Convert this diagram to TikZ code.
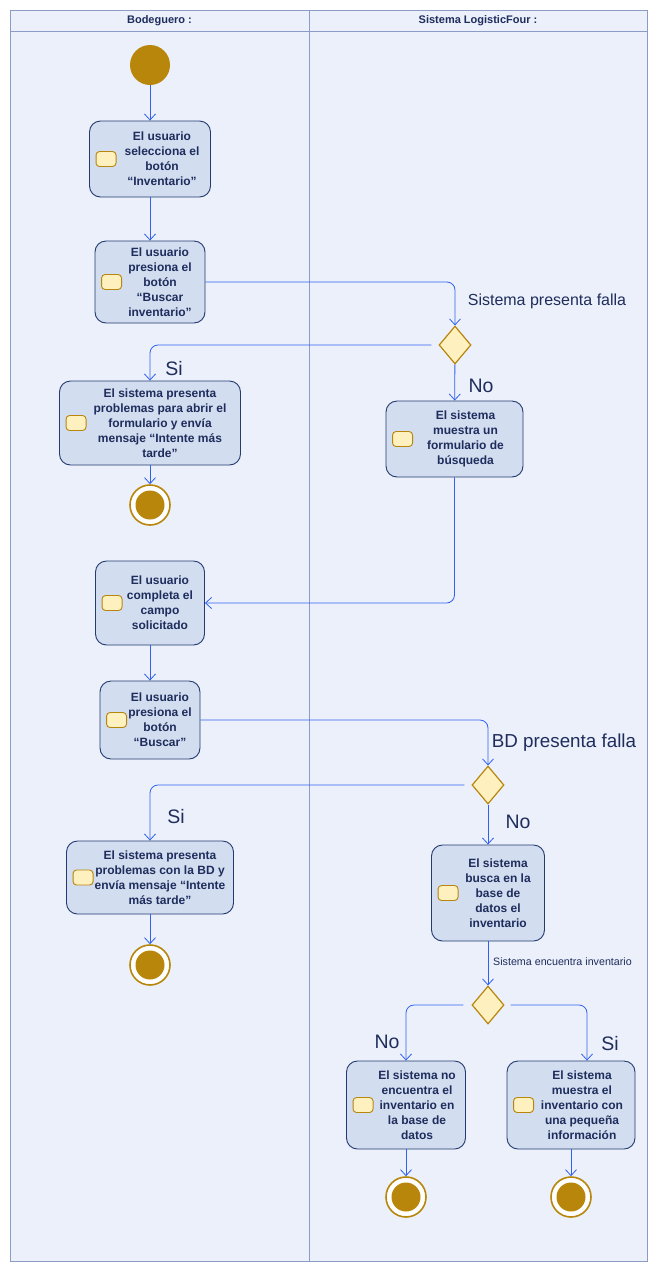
\documentclass[tikz,border=0pt]{standalone}
\usepackage{fontspec}
\setmainfont{Liberation Sans}
\usetikzlibrary{shapes.geometric,arrows.meta}

\definecolor{lanebg}{HTML}{EBF0FA}
\definecolor{laneline}{HTML}{8C9CC6}
\definecolor{boxfill}{HTML}{D2DDF0}
\definecolor{boxline}{HTML}{243A70}
\definecolor{ink}{HTML}{1E2D5C}
\definecolor{gold}{HTML}{B8860B}
\definecolor{cream}{HTML}{FFF0C0}
\definecolor{flowblue}{HTML}{3060F0}

\tikzset{
  action/.style={draw=boxline, fill=boxfill, line width=0.9pt, rounded corners=11pt, inner sep=0pt},
  icon/.style={draw=gold, fill=cream, line width=0.9pt, rounded corners=3.5pt,
    minimum width=20pt, minimum height=15pt, inner sep=0pt},
  acttext/.style={text=ink, font=\fontsize{12}{15}\selectfont\bfseries, align=center, inner sep=0pt},
  decision/.style={diamond, draw=gold, fill=cream, line width=1.2pt,
    minimum width=32pt, minimum height=38pt, inner sep=0pt},
  startnode/.style={circle, fill=gold, minimum size=40pt, inner sep=0pt},
  endnode/.style={circle, draw=gold, line width=1.6pt, fill=white, minimum size=40pt, inner sep=0pt,
    path picture={\fill[gold] (path picture bounding box.center) circle (14.5pt);}},
  flow/.style={draw=flowblue, line width=0.8pt, -{Straight Barb[length=6pt,width=11pt]}, rounded corners=8pt},
  guard/.style={text=ink, anchor=base, inner sep=0pt},
  lanehead/.style={text=ink, font=\fontsize{11}{13}\selectfont\bfseries, inner sep=0pt},
}

% action box: name, centre, width, height, text shift, text
\newcommand{\actionbox}[6]{%
  \node[action, minimum width=#3, minimum height=#4] (#1) at (#2) {};
  \node[icon] (#1-icon) at ([xshift=17pt]#1.west) {};
  \node[acttext] (#1-text) at ([xshift=#5]#1.center) {#6};
}

\begin{document}
\begin{tikzpicture}[x=1pt, y=-1pt]
  \useasboundingbox (0,0) rectangle (657,1272);
  \fill[white] (0,0) rectangle (657,1272);

  % swimlanes
  \fill[lanebg] (10,10) rectangle (647,1261);
  \draw[laneline, line width=1pt] (10,10) rectangle (647,1261);
  \draw[laneline, line width=1pt] (10,31) -- (647,31);
  \draw[laneline, line width=1pt] (309,10) -- (309,1261);
  \node[lanehead] (laneA) at (159.5,20.5) {Bodeguero :};
  \node[lanehead] (laneB) at (478,20.5) {Sistema LogisticFour :};

  % nodes
  \node[startnode] (start) at (150,65) {};
  \actionbox{b1}{150,159}{121pt}{76pt}{12pt}{El usuario\\selecciona el\\botón\\“Inventario”}
  \actionbox{b2}{150,282}{110pt}{82pt}{10pt}{El usuario\\presiona el\\botón\\“Buscar\\inventario”}
  \node[decision] (d1) at (455,345) {};
  \actionbox{si1}{150,423}{181pt}{84pt}{10pt}{El sistema presenta\\problemas para abrir el\\formulario y envía\\mensaje “Intente más\\tarde”}
  \node[endnode] (end1) at (150,505) {};
  \actionbox{no1}{454.5,439}{137pt}{76pt}{11pt}{El sistema\\muestra un\\formulario de\\búsqueda}
  \actionbox{c1}{150,603}{109pt}{84pt}{10pt}{El usuario\\completa el\\campo\\solicitado}
  \actionbox{b4}{150,720}{100pt}{78pt}{10pt}{El usuario\\presiona el\\botón\\“Buscar”}
  \node[decision] (d2) at (488,785) {};
  \actionbox{si2}{150,877.5}{167pt}{73pt}{10pt}{El sistema presenta\\problemas con la BD y\\envía mensaje “Intente\\más tarde”}
  \node[endnode] (end2) at (150,965) {};
  \actionbox{bd}{488,893}{113pt}{96pt}{10pt}{El sistema\\busca en la\\base de\\datos el\\inventario}
  \node[decision] (d3) at (488,1005) {};
  \actionbox{no3}{406,1105}{119pt}{88pt}{11pt}{El sistema no\\encuentra el\\inventario en\\la base de\\datos}
  \actionbox{si3}{571,1105}{128pt}{88pt}{11pt}{El sistema\\muestra el\\inventario con\\una pequeña\\información}
  \node[endnode] (end3) at (406,1197) {};
  \node[endnode] (end4) at (571,1197) {};
  \coordinate (si3in) at ([xshift=16pt]si3.north);

  % connectors
  \draw[flow] (start) -- (b1);
  \draw[flow] (b1) -- (b2);
  \draw[flow] (b2.east) -| (d1.north);
  \draw[flow, shorten <=7pt] (d1.west) -| (si1.north);
  \draw[flow] (d1) -- (no1);
  \draw[flow] (si1) -- (end1);
  \draw[flow] (no1.south) |- (c1.east);
  \draw[flow] (c1) -- (b4);
  \draw[flow] (b4.east) -| (d2.north);
  \draw[flow, shorten <=7pt] (d2.west) -| (si2.north);
  \draw[flow] (d2) -- (bd);
  \draw[flow] (si2) -- (end2);
  \draw[flow] (bd) -- (d3);
  \draw[flow, shorten <=8pt] (d3.west) -| (no3.north);
  \draw[flow, shorten <=6pt] (d3.east) -| (si3in);
  \draw[flow] (no3) -- (end3);
  \draw[flow] (si3) -- (end4);

  % guards
  \node[guard, font=\fontsize{16}{18}\selectfont] (g1) at (547,305) {Sistema presenta falla};
  \node[guard, font=\fontsize{19.5}{22}\selectfont] (g2) at (174,375) {Si};
  \node[guard, font=\fontsize{19.5}{22}\selectfont] (g3) at (481,392) {No};
  \node[guard, font=\fontsize{18.8}{21}\selectfont] (g4) at (564,747) {BD presenta falla};
  \node[guard, font=\fontsize{19.5}{22}\selectfont] (g5) at (176,823) {Si};
  \node[guard, font=\fontsize{19.5}{22}\selectfont] (g6) at (518,828) {No};
  \node[guard, font=\fontsize{10.7}{12}\selectfont] (g7) at (562.5,965) {Sistema encuentra inventario};
  \node[guard, font=\fontsize{19.5}{22}\selectfont] (g8) at (387,1048) {No};
  \node[guard, font=\fontsize{19.5}{22}\selectfont] (g9) at (610,1050) {Si};
\end{tikzpicture}
\end{document}
